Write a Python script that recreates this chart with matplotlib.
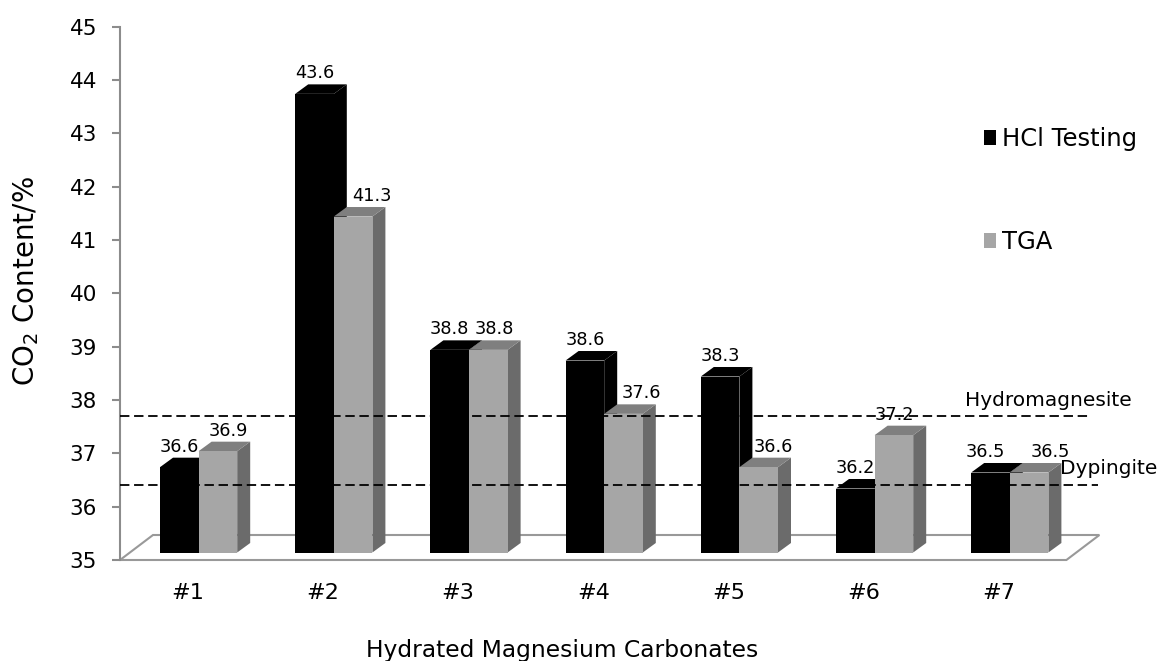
import matplotlib
matplotlib.use("Agg")
import matplotlib.pyplot as plt
import matplotlib.transforms as mtransforms
from matplotlib.patches import Polygon, Rectangle, Patch

samples = ["#1", "#2", "#3", "#4", "#5", "#6", "#7"]
series = ["HCl Testing", "TGA"]
hcl_testing = [36.6, 43.6, 38.8, 38.6, 38.3, 36.2, 36.5]
tga = [36.9, 41.3, 38.8, 37.6, 36.6, 37.2, 36.5]
y_ticks = [35, 36, 37, 38, 39, 40, 41, 42, 43, 44, 45]
# theoretical CO2 content of the two reference phases
ref_names = ["Hydromagnesite", "Dypingite"]
ref_values = [37.7, 36.4]

W, H = 1162, 661
PX = 135.2          # pixels per category
PY = 53.33          # pixels per percent
FRONT = (11, 7.5)   # bar front plane, pixels from floor front
DEPTH = (13, 9.5)   # bar depth in pixels
FLOOR = (33, 25)    # floor depth in pixels
BAR_W = 38.6 / PX

face_colors = {"HCl Testing": ("#000000", "#000000", "#000000"),
               "TGA": ("#a6a6a6", "#7f7f7f", "#6b6b6b")}
label_nudge = {"HCl Testing": [0, 0, 0, 0, 0, 0, -5],
               "TGA": [10, 19, 6, 18, 15, 0, 21]}

plt.rcParams['font.family'] = ['DejaVu Sans']

fig = plt.figure(figsize=(W / 100, H / 100), dpi=100)
ax = fig.add_axes([120 / W, 101 / H, 980 / W, 10 * PY / H])
ax.set_xlim(-0.5, -0.5 + 980 / PX)
ax.set_ylim(y_ticks[0], y_ticks[-1])
base = y_ticks[0]

for side in ["top", "right", "bottom"]:
    ax.spines[side].set_visible(False)
ax.spines["left"].set_color("#8c8c8c")
ax.spines["left"].set_linewidth(1.5)
ax.set_xticks([])
ax.set_yticks(y_ticks)
ax.tick_params(axis="y", colors="#8c8c8c", length=6, width=1.5, pad=10.5,
               labelcolor="black", labelsize=15.5)

# floor of the 3-D plot area
n = len(samples)
fdx, fdy = FLOOR[0] / PX, FLOOR[1] / PY
floor = Polygon([(-0.5, base), (n - 0.5, base), (n - 0.5 + fdx, base + fdy),
                 (-0.5 + fdx, base + fdy)], closed=True, facecolor="white",
                edgecolor="#999999", linewidth=1.5, clip_on=False, zorder=1)
ax.add_patch(floor)

front = mtransforms.offset_copy(ax.transData, fig=fig, x=FRONT[0], y=FRONT[1],
                                units="dots")
ddx, ddy = DEPTH[0] / PX, DEPTH[1] / PY


def drawBar(x0, value, colors, z):
    fc, tc, sc = colors
    ax.add_patch(Polygon([(x0 + BAR_W, base), (x0 + BAR_W + ddx, base + ddy),
                          (x0 + BAR_W + ddx, value + ddy), (x0 + BAR_W, value)],
                         closed=True, facecolor=sc, edgecolor="none",
                         transform=front, clip_on=False, zorder=z))
    ax.add_patch(Polygon([(x0, value), (x0 + BAR_W, value),
                          (x0 + BAR_W + ddx, value + ddy), (x0 + ddx, value + ddy)],
                         closed=True, facecolor=tc, edgecolor="none",
                         transform=front, clip_on=False, zorder=z))
    ax.add_patch(Rectangle((x0, base), BAR_W, value - base, facecolor=fc,
                           edgecolor="none", transform=front, clip_on=False,
                           zorder=z))


for i in range(n):
    for j, (name, values) in enumerate(zip(series, [hcl_testing, tga])):
        x0 = i - BAR_W + j * BAR_W
        drawBar(x0, values[i], face_colors[name], 2 + j)
        ax.annotate(f"{values[i]:.1f}", xy=(x0 + BAR_W / 2, values[i] + ddy),
                    xycoords=front, xytext=(label_nudge[name][i], 6),
                    textcoords="offset pixels", ha="center", va="baseline",
                    fontsize=12.8, zorder=6)
    ax.annotate(samples[i], xy=(i, base), xycoords="data", xytext=(0, -39),
                textcoords="offset pixels", ha="center", va="baseline",
                fontsize=16, annotation_clip=False)

# reference lines for the two carbonate phases
for name, value, xmax, lx, dy in zip(ref_names, ref_values, [0.99, 0.998],
                                     [965, 1060], [10, 11]):
    ax.axhline(value, xmin=0, xmax=xmax, color="black", linewidth=1.3,
               dashes=(5.2, 2.6), zorder=5)
    ax.annotate(name, xy=(0, value), xycoords=("figure pixels", "data"),
                xytext=(lx, dy), textcoords="offset pixels", ha="left",
                va="baseline", fontsize=14.5, zorder=6)

fig.legend(handles=[Patch(facecolor=face_colors[s][0]) for s in series],
           labels=series, loc="upper left", bbox_to_anchor=(984 / W, 1 - 127 / H),
           frameon=False, fontsize=17.5, handlelength=0.5, handleheight=0.6,
           handletextpad=0.25, labelspacing=3.25, borderpad=0, borderaxespad=0)

fig.text(26 / W, 1 - 281 / H, "CO$_2$ Content/%", rotation=90, ha="center",
         va="center", fontsize=20)
fig.text(562 / W, 4 / H, "Hydrated Magnesium Carbonates", ha="center",
         va="baseline", fontsize=16.8)

fig.savefig("out.png", dpi=100)
